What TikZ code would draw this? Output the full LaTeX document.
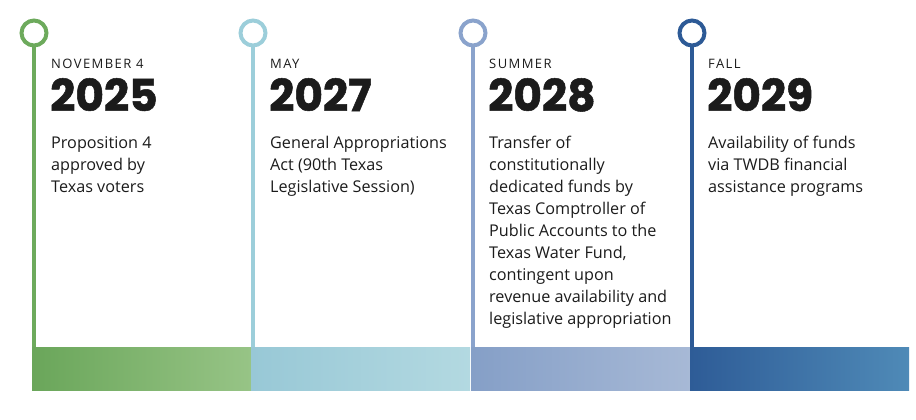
\documentclass[tikz,border=0pt]{standalone}
\usepackage{fontspec}
\setmainfont{Open Sans}
\newfontfamily\labelfont{Open Sans}[LetterSpace=11]
\newfontfamily\yearfont{Poppins}[FakeBold=1.2]
\definecolor{ink}{HTML}{1B1B1B}
\definecolor{greenC}{HTML}{6DAA5C}
\definecolor{greenL}{HTML}{6AA65A}
\definecolor{greenR}{HTML}{97C486}
\definecolor{aquaC}{HTML}{9CCEDA}
\definecolor{aquaL}{HTML}{98C8D6}
\definecolor{aquaR}{HTML}{B3D9E1}
\definecolor{lilacC}{HTML}{8AA3CC}
\definecolor{lilacL}{HTML}{859FC7}
\definecolor{lilacR}{HTML}{A7B9D6}
\definecolor{navyC}{HTML}{2D5A96}
\definecolor{navyL}{HTML}{2E5C97}
\definecolor{navyR}{HTML}{4F8AB7}
\tikzset{
  ring/.style={draw=#1,circle,line width=4pt,minimum size=25pt,inner sep=0pt,fill=white},
  stem/.style={draw=#1,line width=4pt},
  bar/.style={anchor=north west,minimum width=219pt,minimum height=43pt,inner sep=0pt},
  when/.style={anchor=base west,inner sep=0pt,text=ink,font=\labelfont\fontsize{13}{15}\selectfont},
  year/.style={anchor=base west,inner sep=0pt,text=ink,font=\yearfont\bfseries\fontsize{44}{44}\selectfont},
  what/.style={anchor=base west,inner sep=0pt,text=ink,align=left,font=\fontsize{16.2}{22}\selectfont}
}
\begin{document}
\begin{tikzpicture}[x=1pt,y=-1pt]
			\useasboundingbox (0,0) rectangle (916,420);
			% bars
			\node [bar,left color=greenL,right color=greenR] (b1) at (32,347) {};
			\node [bar,left color=aquaL,right color=aquaR] (b2) at (251,347) {};
			\node [bar,left color=lilacL,right color=lilacR] (b3) at (471,347) {};
			\node [bar,left color=navyL,right color=navyR] (b4) at (690,347) {};
			
			% rings
			\node [ring=greenC] (c1) at (34,33) {};
			\node [ring=aquaC] (c2) at (253,33) {};
			\node [ring=lilacC] (c3) at (473,33) {};
			\node [ring=navyC] (c4) at (692,33) {};
			
			\draw [stem=greenC] (c1) -- (c1 |- b1.north);
			\draw [stem=aquaC] (c2) -- (c2 |- b2.north);
			\draw [stem=lilacC] (c3) -- (c3 |- b3.north);
			\draw [stem=navyC] (c4) -- (c4 |- b4.north);
			
			% texts (base of a block = its last line)
			\node [when] (w1) at (51,69) {NOVEMBER 4};
			\node [year] (y1) at (50,111) {2025};
			\node [what] (t1) at (51,192) {Proposition 4\\approved by\\Texas voters};
			
			\node [when] (w2) at (270,69) {MAY};
			\node [year] (y2) at (269,111) {2027};
			\node [what] (t2) at (270,192) {General Appropriations\\Act (90th Texas\\Legislative Session)};
			
			\node [when] (w3) at (489,69) {SUMMER};
			\node [year] (y3) at (488,111) {2028};
			\node [what] (t3) at (489,324) {Transfer of\\constitutionally\\dedicated funds by\\Texas Comptroller of\\Public Accounts to the\\Texas Water Fund,\\contingent upon\\revenue availability and\\legislative appropriation};
			
			\node [when] (w4) at (708,69) {FALL};
			\node [year] (y4) at (707,111) {2029};
			\node [what] (t4) at (708,192) {Availability of funds\\via TWDB financial\\assistance programs};
\end{tikzpicture}
\end{document}
